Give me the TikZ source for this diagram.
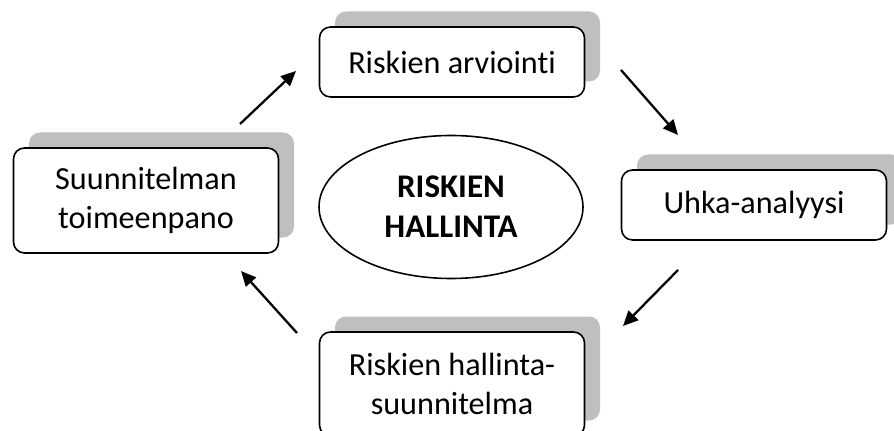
\documentclass[tikz,border=0pt]{standalone}
\usepackage{fontspec}
\setmainfont[Ligatures = NoCommon]{Carlito}
\usepackage{tikz}
\usetikzlibrary{shapes.geometric, arrows.meta, shadows}
\tikzset{
    vaihe/.style = {draw, line width = 0.9pt, rounded corners = 0.22cm, fill = white,
        minimum width = 5.3cm, minimum height = 1.4cm, align = center,
        font = \fontsize{18.3}{22.2}\selectfont,
        general shadow = {shadow xshift = 0.31cm, shadow yshift = 0.31cm, fill = black!25, draw = none}},
    nuoli/.style = {line width = 1.3pt, -{Triangle[length = 0.3cm, width = 0.27cm]}}
}
\begin{document}
\begin{tikzpicture}[scale = 1.0]
    \useasboundingbox (0,0) rectangle (17.88,8.6);
    % Keskus
    \node[ellipse, draw, line width = 0.9pt, minimum width = 5.28cm, minimum height = 2.86cm,
        align = center, font = \fontsize{18.8}{22.6}\selectfont\bfseries] (keskus) at (9.02,4.46){RISKIEN\\HALLINTA};
    % Vaiheet
    \node[vaihe] (arviointi) at (9.04,7.36){Riskien arviointi};
    \node[vaihe] (uhka) at (15.08,4.5){Uhka-analyysi};
    \node[vaihe, minimum height = 2.08cm] (suunnitelma) at (9.04,0.92){Riskien hallinta-\\suunnitelma};
    \node[vaihe, minimum height = 2.1cm] (toimeenpano) at (2.92,4.59){Suunnitelman\\toimeenpano};
    % Nuolten päät
    \coordinate (n1a) at (4.8,6.12);
    \coordinate (n1b) at (5.92,7.18);
    \coordinate (n2a) at (12.42,7.2);
    \coordinate (n2b) at (13.56,5.9);
    \coordinate (n3a) at (13.56,3.2);
    \coordinate (n3b) at (12.46,2.08);
    \coordinate (n4a) at (5.94,1.94);
    \coordinate (n4b) at (4.82,3.18);
    % Nuolet
    \draw[nuoli] (n1a) -- (n1b);
    \draw[nuoli] (n2a) -- (n2b);
    \draw[nuoli] (n3a) -- (n3b);
    \draw[nuoli] (n4a) -- (n4b);
\end{tikzpicture}
\end{document}
